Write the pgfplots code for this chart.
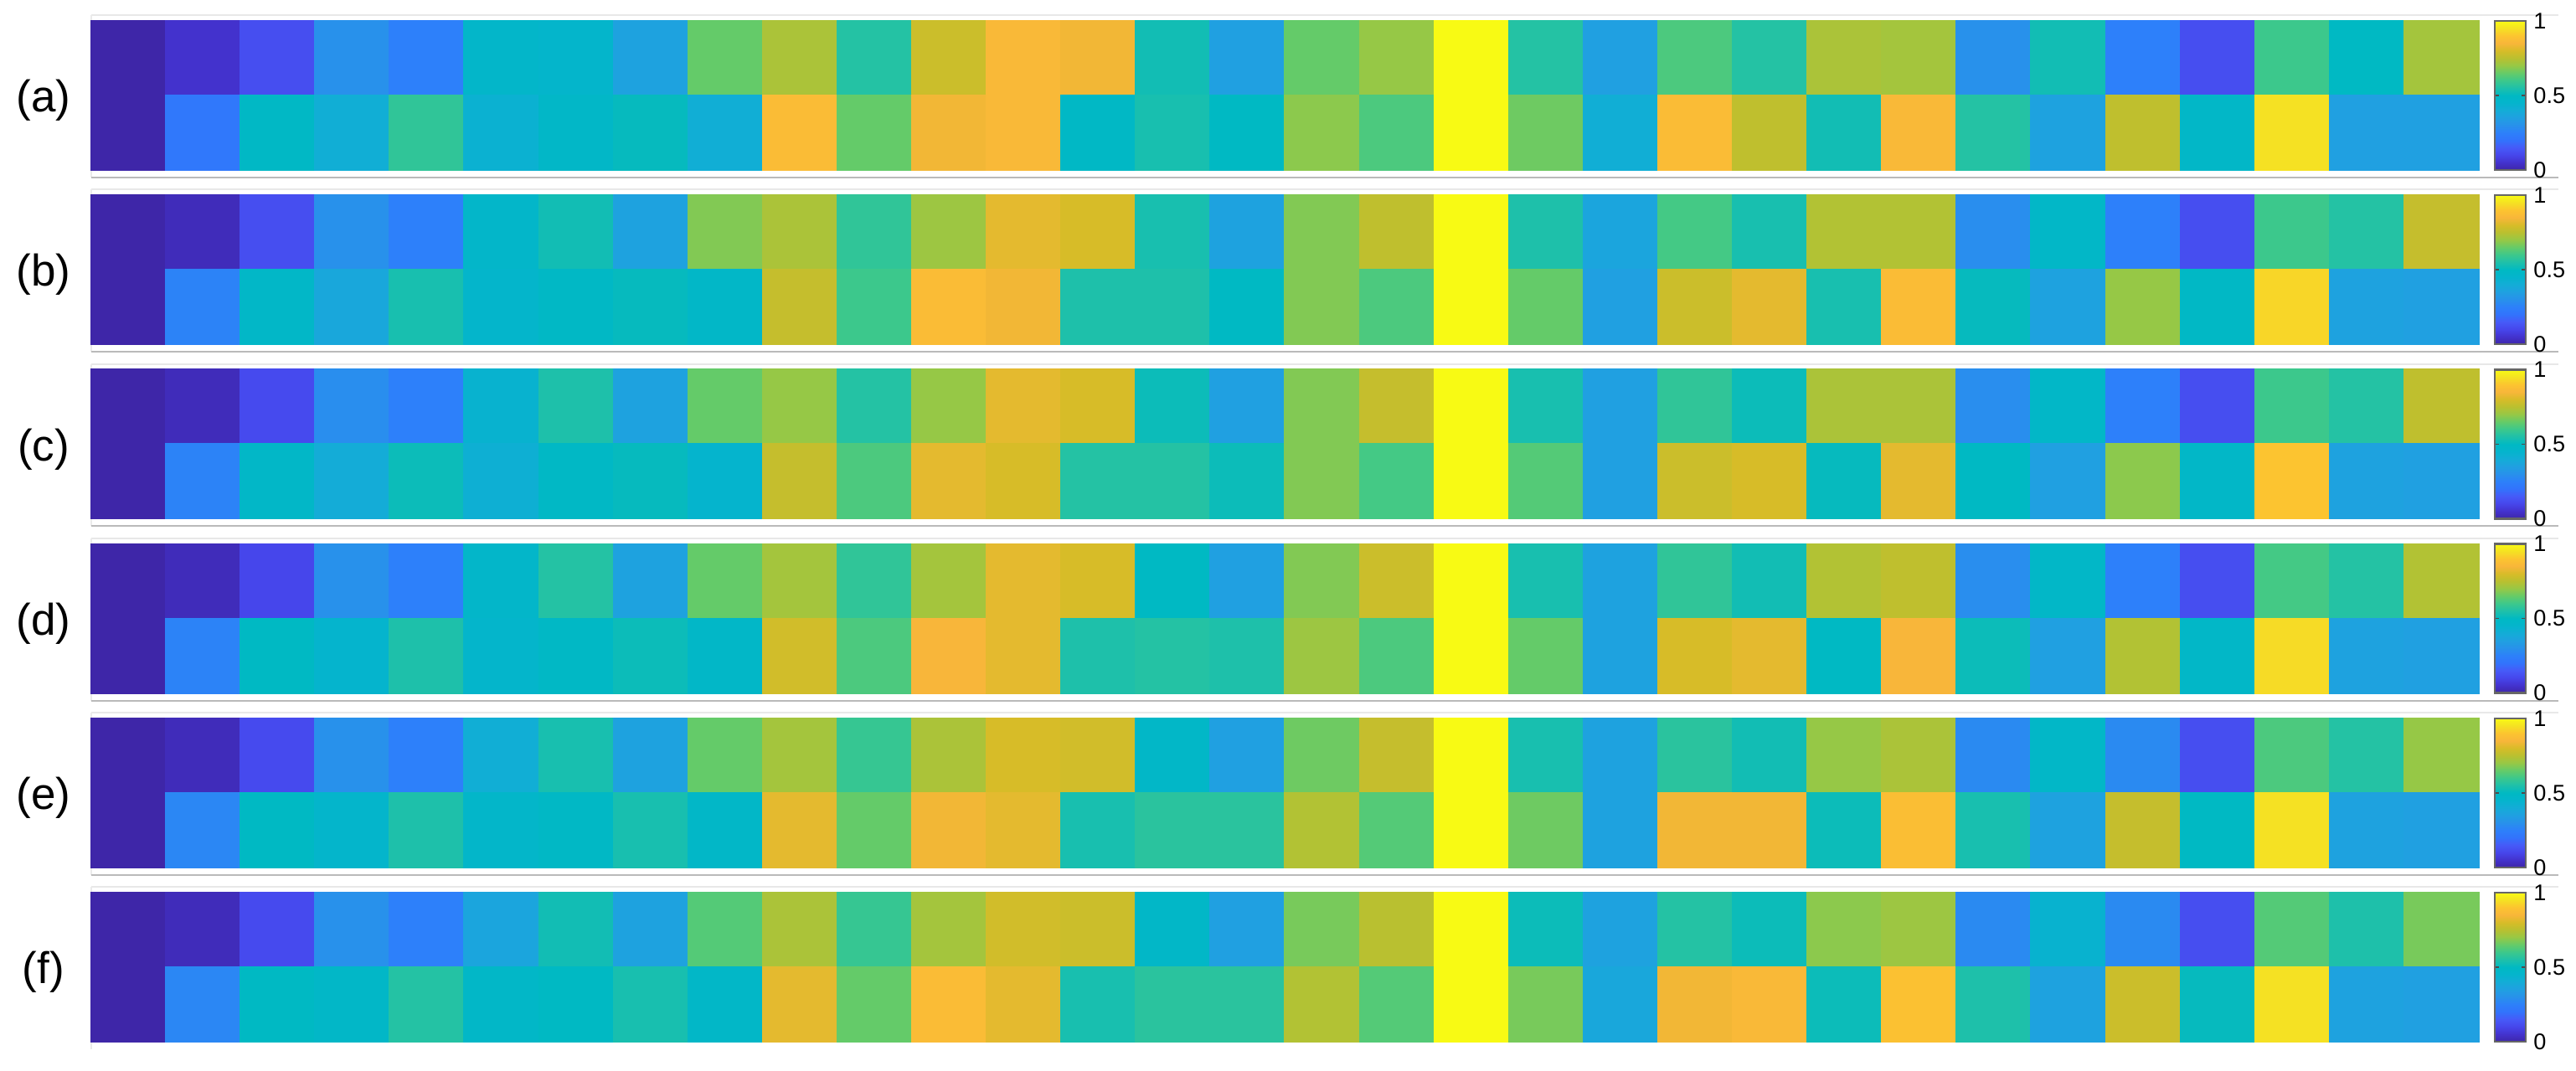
\documentclass[border=0pt]{standalone}
\usepackage{fontspec}
\setmainfont{Liberation Sans}
\usepackage{pgfplots}
\usepackage{pgfplotstable}
\pgfplotsset{compat=1.18}

% one row per column of the heat maps: top (t) and bottom (b) row of each panel
\pgfplotstableread{
x  at   ab   bt   bb   ct   cb   dt   db   et   eb   ft   fb
0  0    0    0    0    0    0    0    0    0    0    0    0
1  .05  .22  .025 .26  .025 .26  .025 .26  .025 .27  .025 .27
2  .12  .49  .12  .48  .11  .48  .10  .50  .11  .50  .11  .50
3  .30  .41  .30  .38  .29  .40  .30  .45  .30  .46  .30  .48
4  .25  .58  .25  .54  .25  .52  .25  .55  .25  .55  .25  .56
5  .47  .43  .47  .46  .44  .42  .47  .46  .41  .47  .37  .48
6  .46  .48  .53  .49  .55  .49  .56  .49  .54  .49  .53  .50
7  .36  .51  .36  .51  .36  .51  .36  .52  .36  .54  .36  .54
8  .65  .41  .68  .48  .65  .45  .65  .48  .65  .48  .63  .48
9  .73  .87  .73  .77  .70  .77  .72  .79  .72  .82  .73  .82
10 .56  .65  .58  .60  .56  .62  .58  .62  .59  .65  .59  .65
11 .78  .84  .71  .87  .70  .82  .72  .85  .73  .84  .72  .87
12 .86  .86  .82  .84  .82  .80  .82  .82  .80  .82  .79  .82
13 .84  .49  .80  .55  .80  .56  .80  .55  .79  .54  .78  .54
14 .53  .54  .54  .55  .52  .56  .50  .56  .48  .57  .48  .57
15 .35  .50  .36  .50  .35  .52  .35  .55  .35  .57  .35  .57
16 .65  .69  .68  .68  .68  .68  .68  .71  .66  .74  .67  .74
17 .70  .62  .76  .62  .77  .61  .78  .62  .77  .63  .75  .63
18 1    1    1    1    1    1    1    1    1    1    1    1
19 .56  .66  .55  .65  .54  .63  .54  .65  .54  .66  .52  .67
20 .35  .41  .37  .35  .35  .35  .36  .36  .36  .36  .36  .38
21 .62  .87  .61  .78  .58  .78  .58  .80  .57  .84  .56  .84
22 .56  .76  .54  .82  .52  .80  .53  .82  .53  .84  .52  .86
23 .73  .53  .74  .54  .73  .51  .74  .50  .70  .52  .69  .52
24 .72  .86  .74  .87  .73  .82  .76  .85  .73  .88  .71  .89
25 .30  .56  .29  .51  .29  .50  .29  .52  .28  .54  .28  .55
26 .53  .36  .48  .36  .48  .35  .48  .35  .48  .36  .44  .36
27 .25  .76  .25  .70  .25  .69  .25  .74  .28  .77  .28  .78
28 .12  .48  .12  .49  .12  .48  .12  .48  .12  .50  .12  .51
29 .60  .95  .60  .93  .60  .90  .61  .94  .62  .95  .63  .95
30 .50  .35  .56  .36  .56  .36  .56  .36  .56  .36  .55  .36
31 .72  .35  .77  .35  .76  .35  .74  .35  .70  .35  .67  .35
}\heatdata

\pgfplotsset{
  colormap={parulaish}{
    rgb255=(62,38,168) rgb255=(67,50,205) rgb255=(70,70,235) rgb255=(70,90,248)
    rgb255=(50,115,252) rgb255=(45,128,250) rgb255=(40,145,235) rgb255=(32,160,225)
    rgb255=(20,172,215) rgb255=(5,180,205) rgb255=(0,185,195) rgb255=(30,192,170)
    rgb255=(60,200,140) rgb255=(100,203,105) rgb255=(150,200,70) rgb255=(185,192,48)
    rgb255=(215,188,40) rgb255=(248,182,58) rgb255=(252,196,48) rgb255=(245,225,35)
    rgb255=(248,250,20)
  },
  panel/.style={
    scale only axis, width=712.75bp, height=44.5bp,
    anchor=north west,
    xmin=-0.5, xmax=31.5, ymin=-0.5, ymax=1.5, y dir=reverse,
    xtick=\empty, ytick=\empty, axis line style={draw=none},
    colormap name=parulaish,
    point meta min=0, point meta max=1,
    colorbar,
    colorbar style={
      at={(parent axis.north east)}, anchor=north west, xshift=-3.8bp,
      scale only axis, width=9.25bp, height=44.5bp,
      ytick={0,0.5,1},
      axis line style={draw=black!60, line width=0.6bp},
      major tick length=1.2bp,
      tick style={draw=black!70, line width=0.4bp},
      yticklabel style={font=\fontsize{6.8}{7}\selectfont, inner sep=0pt, xshift=2.2bp,
        /pgf/number format/assume math mode=true},
    },
  },
  heatcells/.style={scatter, only marks, mark=square*, mark size=11.14bp,
    scatter/use mapped color={draw=mapped color, fill=mapped color},
    every mark/.append style={line width=0.5bp}},
}

\begin{document}
\begin{tikzpicture}
\useasboundingbox (0,0) rectangle (769bp,-319.75bp);

% thin frame lines between panels, drawn first so the labels sit on top
\foreach \t in {6.25, 58.3, 110.35, 162.4, 214.45, 266.5}{
  \draw[black!9, line width=0.5bp] (27.25bp, {(1.7-\t)*1bp}) -- (763.75bp, {(1.7-\t)*1bp});
  \draw[black!8, line width=0.4bp] (27.25bp, {(1.7-\t)*1bp}) -- (27.25bp, {(-\t-46.75)*1bp});
}
\foreach \t in {6.25, 58.3, 110.35, 162.4, 214.45}{
  \draw[black!27, line width=0.5bp] (27.25bp, {(-\t-46.75)*1bp}) -- (763.75bp, {(-\t-46.75)*1bp});
}

\begin{axis}[panel, name=pa, at={(27.25bp,-6.25bp)}]
  \addplot[heatcells, point meta=\thisrow{at}] table[x=x, y expr=0] {\heatdata};
  \addplot[heatcells, point meta=\thisrow{ab}] table[x=x, y expr=1] {\heatdata};
\end{axis}
\begin{axis}[panel, name=pb, at={(27.25bp,-58.3bp)}]
  \addplot[heatcells, point meta=\thisrow{bt}] table[x=x, y expr=0] {\heatdata};
  \addplot[heatcells, point meta=\thisrow{bb}] table[x=x, y expr=1] {\heatdata};
\end{axis}
\begin{axis}[panel, name=pc, at={(27.25bp,-110.35bp)}]
  \addplot[heatcells, point meta=\thisrow{ct}] table[x=x, y expr=0] {\heatdata};
  \addplot[heatcells, point meta=\thisrow{cb}] table[x=x, y expr=1] {\heatdata};
\end{axis}
\begin{axis}[panel, name=pd, at={(27.25bp,-162.4bp)}]
  \addplot[heatcells, point meta=\thisrow{dt}] table[x=x, y expr=0] {\heatdata};
  \addplot[heatcells, point meta=\thisrow{db}] table[x=x, y expr=1] {\heatdata};
\end{axis}
\begin{axis}[panel, name=pe, at={(27.25bp,-214.45bp)}]
  \addplot[heatcells, point meta=\thisrow{et}] table[x=x, y expr=0] {\heatdata};
  \addplot[heatcells, point meta=\thisrow{eb}] table[x=x, y expr=1] {\heatdata};
\end{axis}
\begin{axis}[panel, name=pf, at={(27.25bp,-266.5bp)}]
  \addplot[heatcells, point meta=\thisrow{ft}] table[x=x, y expr=0] {\heatdata};
  \addplot[heatcells, point meta=\thisrow{fb}] table[x=x, y expr=1] {\heatdata};
\end{axis}

% panel labels
\foreach \p/\l in {pa/a, pb/b, pc/c, pd/d, pe/e, pf/f}{
  \node[font=\fontsize{13.3}{16}\selectfont] at ([xshift=-14.25bp, yshift=-1.5bp]\p.west) {(\l)};
}
\end{tikzpicture}
\end{document}
